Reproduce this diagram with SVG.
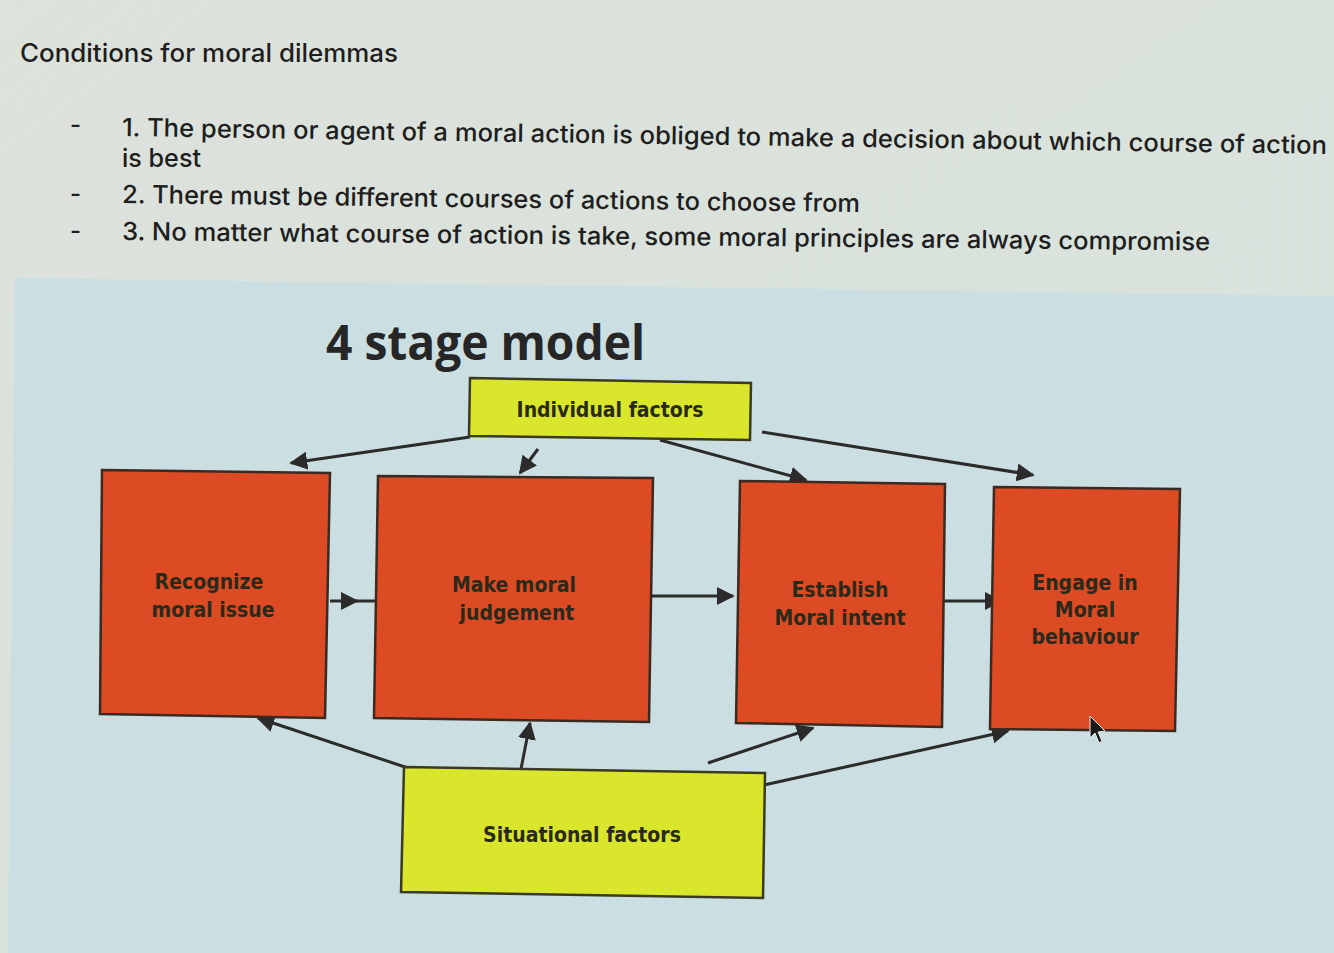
<svg xmlns="http://www.w3.org/2000/svg" width="1334" height="953" viewBox="0 0 1334 953">
<defs>
<marker id="ah" viewBox="0 0 10 10" refX="9" refY="5" markerWidth="6" markerHeight="6" orient="auto" markerUnits="strokeWidth">
<path d="M0,0 L10,5 L0,10 z" fill="#2b2b2b"/>
</marker>
<linearGradient id="bg" x1="0" y1="0" x2="1" y2="1">
<stop offset="0" stop-color="#dde2db"/>
<stop offset="1" stop-color="#d6e2dc"/>
</linearGradient>
</defs>
<style>
.hdr{font-family:Inter,"Open Sans","Liberation Sans",sans-serif;font-weight:500;fill:#1e1e1e;}
.red{fill:#dc4b23;stroke:#3a2a22;stroke-width:2.5;}
.yel{fill:#d9e62c;stroke:#3a3a22;stroke-width:2.5;}
.lbl{font-family:"DejaVu Sans Condensed","DejaVu Sans","Liberation Sans",sans-serif;font-stretch:condensed;font-weight:bold;font-size:21px;fill:#2a2a1c;text-anchor:middle;}
.con{stroke:#2b2b2b;stroke-width:3;fill:none;}
</style>
<rect width="1334" height="953" fill="url(#bg)"/>
<polygon points="15,278 1334,296 1334,953 8,953" fill="#cbdee2"/>

<g id="header">
<text class="hdr" x="20" y="62" font-size="25" textLength="378" lengthAdjust="spacingAndGlyphs">Conditions for moral dilemmas</text>
<text class="hdr" x="70" y="133" font-size="24">-</text>
<text class="hdr" x="70" y="202" font-size="24">-</text>
<text class="hdr" x="70" y="239" font-size="24">-</text>
<text class="hdr" x="122" y="136" font-size="25" transform="rotate(0.85 122 136)" textLength="1205" lengthAdjust="spacingAndGlyphs">1. The person or agent of a moral action is obliged to make a decision about which course of action</text>
<text class="hdr" x="122" y="167" font-size="25" textLength="79" lengthAdjust="spacingAndGlyphs">is best</text>
<text class="hdr" x="122" y="203" font-size="25" transform="rotate(0.7 122 203)" textLength="738" lengthAdjust="spacingAndGlyphs">2. There must be different courses of actions to choose from</text>
<text class="hdr" x="122" y="240" font-size="25" transform="rotate(0.55 122 240)" textLength="1088" lengthAdjust="spacingAndGlyphs">3. No matter what course of action is take, some moral principles are always compromise</text>
</g>

<g id="title">
<text x="326" y="360" font-family="Open Sans, Liberation Sans, sans-serif" font-weight="bold" font-size="48" fill="#262626" textLength="319" lengthAdjust="spacingAndGlyphs">4 stage model</text>
</g>

<g id="connectors">
<line class="con" x1="470" y1="437" x2="291" y2="463" marker-end="url(#ah)"/>
<line class="con" x1="538" y1="449" x2="520" y2="473" marker-end="url(#ah)"/>
<line class="con" x1="660" y1="440" x2="806" y2="480" marker-end="url(#ah)"/>
<line class="con" x1="762" y1="432" x2="1033" y2="475" marker-end="url(#ah)"/>
<line class="con" x1="330" y1="601" x2="357" y2="601" marker-end="url(#ah)"/>
<line class="con" x1="355" y1="601" x2="377" y2="601"/>
<line class="con" x1="640" y1="596" x2="733" y2="596" marker-end="url(#ah)"/>
<line class="con" x1="944" y1="601" x2="1001" y2="601" marker-end="url(#ah)"/>
<line class="con" x1="408" y1="768" x2="258" y2="718" marker-end="url(#ah)"/>
<line class="con" x1="521" y1="769" x2="530" y2="723" marker-end="url(#ah)"/>
<line class="con" x1="708" y1="763" x2="813" y2="728" marker-end="url(#ah)"/>
<line class="con" x1="764" y1="785" x2="1008" y2="731" marker-end="url(#ah)"/>
</g>

<g id="individual">
<polygon class="yel" points="470,378 751,383 750,440 469,436"/>
<text class="lbl" x="610" y="417">Individual factors</text>
</g>

<g id="recognize">
<polygon class="red" points="102,470 330,473 325,718 100,714"/>
<text class="lbl" x="209" y="589">Recognize</text>
<text class="lbl" x="213" y="617">moral issue</text>
</g>

<g id="judgement">
<polygon class="red" points="378,476 653,478 649,722 374,718"/>
<text class="lbl" x="514" y="592">Make moral</text>
<text class="lbl" x="517" y="620">judgement</text>
</g>

<g id="intent">
<polygon class="red" points="740,481 945,484 942,727 736,723"/>
<text class="lbl" x="840" y="597">Establish</text>
<text class="lbl" x="840" y="625">Moral intent</text>
</g>

<g id="behaviour">
<polygon class="red" points="994,487 1180,489 1175,731 990,729"/>
<text class="lbl" x="1085" y="590">Engage in</text>
<text class="lbl" x="1085" y="617">Moral</text>
<text class="lbl" x="1085" y="644">behaviour</text>
</g>

<g id="situational">
<polygon class="yel" points="404,767 765,773 763,898 401,892"/>
<text class="lbl" x="582" y="842">Situational factors</text>
</g>

<g id="cursor">
<polygon points="1090,716 1090,738 1095,733 1099,743 1102,741 1098,732 1105,731" fill="#1a1a1a" stroke="#eeeeee" stroke-width="1"/>
</g>
</svg>
